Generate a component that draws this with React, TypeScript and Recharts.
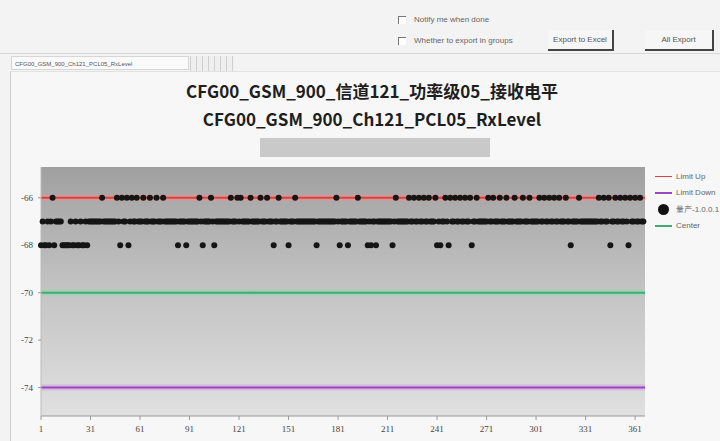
import {
  ComposedChart,
  Scatter,
  XAxis,
  YAxis,
  CartesianGrid,
  ReferenceLine,
} from "recharts";

// RxLevel per test index (1..366)
const rxLevel: number[] = [
  -68, -67, -68, -68, -67, -68, -67, -66, -68, -67, -67, -67, -67, -68, -68, -68, -68, -68, -67, -68, -68, -67, -68, -68, -67, -68, -68, -67, -68, -67,
  -67, -67, -67, -67, -67, -67, -67, -66, -67, -67, -67, -67, -67, -67, -67, -67, -66, -67, -68, -66, -67, -67, -66, -68, -67, -66, -67, -67, -66, -67,
  -67, -67, -66, -67, -67, -67, -66, -67, -67, -67, -66, -67, -67, -67, -66, -67, -67, -67, -67, -67, -67, -67, -67, -68, -67, -67, -67, -67, -68, -67,
  -67, -67, -67, -67, -67, -67, -66, -67, -68, -67, -67, -67, -67, -66, -67, -68, -67, -67, -67, -67, -67, -67, -67, -67, -67, -66, -67, -67, -67, -66,
  -67, -66, -67, -67, -67, -67, -67, -66, -67, -67, -67, -67, -67, -66, -67, -67, -67, -66, -67, -67, -67, -68, -67, -67, -66, -67, -67, -67, -67, -67,
  -68, -67, -67, -67, -66, -67, -67, -67, -67, -67, -67, -67, -67, -67, -67, -67, -67, -68, -67, -67, -67, -67, -67, -67, -67, -67, -67, -67, -67, -66,
  -67, -68, -67, -67, -67, -67, -68, -67, -67, -67, -67, -67, -66, -67, -67, -67, -67, -67, -68, -67, -68, -67, -67, -68, -67, -67, -67, -67, -67, -67,
  -67, -67, -67, -68, -67, -66, -67, -67, -67, -67, -67, -67, -67, -66, -67, -67, -66, -67, -67, -66, -67, -67, -66, -67, -67, -66, -67, -67, -67, -66,
  -68, -67, -68, -67, -67, -66, -67, -68, -66, -67, -67, -66, -67, -67, -66, -67, -67, -66, -67, -67, -66, -68, -67, -67, -66, -67, -67, -67, -67, -67,
  -67, -66, -67, -67, -66, -67, -67, -67, -66, -67, -67, -67, -66, -67, -67, -67, -67, -66, -67, -67, -67, -67, -66, -67, -67, -67, -66, -67, -67, -67,
  -67, -67, -66, -67, -67, -66, -67, -67, -66, -67, -67, -66, -67, -67, -66, -67, -67, -67, -66, -67, -67, -68, -67, -67, -67, -67, -66, -67, -67, -67,
  -67, -67, -67, -67, -67, -67, -67, -67, -66, -67, -67, -66, -67, -67, -66, -68, -67, -67, -66, -67, -67, -66, -67, -67, -66, -67, -68, -66, -67, -67,
  -66, -67, -67, -66, -67, -67,
];

const xTicks = [1, 31, 61, 91, 121, 151, 181, 211, 241, 271, 301, 331, 361];
const yTicks = [-74, -72, -70, -68, -66];

const limitUp = -66;
const limitDown = -74;
const center = -70;

const seriesName = "量产-1.0.0.1";
const titleCn = "CFG00_GSM_900_信道121_功率级05_接收电平";
const titleEn = "CFG00_GSM_900_Ch121_PCL05_RxLevel";

const points = rxLevel.map((v, i) => ({ idx: i + 1, rx: v }));

const uiFont = "'Liberation Sans', Arial, sans-serif";

const Dot = (props: any) => (
  <circle cx={props.cx} cy={props.cy} r={3} fill="#151515" />
);

const legendItems = [
  { label: "Limit Up", color: "#d94040", kind: "line" },
  { label: "Limit Down", color: "#9b45c2", kind: "line" },
  { label: seriesName, color: "#111", kind: "dot" },
  { label: "Center", color: "#3fae73", kind: "line" },
];

const CheckRow = ({ top, text }: { top: number; text: string }) => (
  <div style={{ position: "absolute", left: 398, top, display: "flex", alignItems: "center" }}>
    <div style={{ width: 7, height: 7, borderLeft: "1px solid #777", borderTop: "1px solid #777", background: "#fff" }} />
    <span style={{ marginLeft: 8, fontSize: 8, color: "#666" }}>{text}</span>
  </div>
);

const Btn = ({ left, width, text }: { left: number; width: number; text: string }) => (
  <div
    style={{
      position: "absolute",
      left,
      top: 30,
      width,
      height: 19,
      borderRight: "2px solid #444",
      borderBottom: "2px solid #444",
      background: "#f6f6f6",
      fontSize: 8,
      color: "#555",
      textAlign: "center",
      lineHeight: "19px",
    }}
  >
    {text}
  </div>
);

export default function App() {
  return (
    <div
      style={{
        position: "absolute",
        left: 0,
        top: 0,
        width: 720,
        height: 441,
        overflow: "hidden",
        background: "#f3f3f3",
        fontFamily: uiFont,
      }}
    >
      <CheckRow top={15} text="Notify me when done" />
      <CheckRow top={36} text="Whether to export in groups" />
      <Btn left={548} width={64} text="Export to Excel" />
      <Btn left={645} width={67} text="All Export" />
      <div style={{ position: "absolute", left: 0, top: 53, width: 720, height: 1, background: "#d8d8d8" }} />

      {/* tab strip */}
      <div
        style={{
          position: "absolute",
          left: 11,
          top: 56,
          width: 178,
          height: 14,
          border: "1px solid #d6d6d6",
          background: "#fafafa",
          fontSize: 6,
          color: "#555",
          lineHeight: "14px",
          paddingLeft: 3,
          boxSizing: "border-box",
        }}
      >
        {titleEn}
      </div>
      <div
        style={{
          position: "absolute",
          left: 190,
          top: 56,
          width: 44,
          height: 16,
          background:
            "repeating-linear-gradient(90deg, #cfcfcf 0px, #cfcfcf 1px, #efefef 1px, #efefef 6px)",
        }}
      />

      {/* chart panel */}
      <div
        style={{
          position: "absolute",
          left: 10,
          top: 71,
          width: 710,
          height: 370,
          background: "#f7f7f7",
          borderLeft: "1px solid #cdcdcd",
          borderTop: "1px solid #e2e2e2",
        }}
      />

      <div
        style={{
          position: "absolute",
          left: 122,
          top: 77,
          width: 500,
          textAlign: "center",
          fontFamily: "'Noto Sans CJK SC', 'Noto Sans', sans-serif",
          fontWeight: 700,
          fontSize: 17,
          color: "#1e1e1e",
          lineHeight: "28px",
        }}
      >
        <div>{titleCn}</div>
        <div>{titleEn}</div>
      </div>
      <div style={{ position: "absolute", left: 260, top: 138, width: 230, height: 19, background: "#c9c9c9" }} />

      <div style={{ position: "absolute", left: 0, top: 160 }}>
        <ComposedChart
          width={720}
          height={281}
          data={points}
          margin={{ top: 7, right: 75, bottom: 0, left: 9 }}
        >
          <defs>
            <linearGradient id="plotBg" x1="0" y1="0" x2="0" y2="1">
              <stop offset="0%" stopColor="#a0a0a0" />
              <stop offset="50%" stopColor="#c4c4c4" />
              <stop offset="100%" stopColor="#e0e0e0" />
            </linearGradient>
          </defs>
          <CartesianGrid fill="url(#plotBg)" stroke="none" />
          <XAxis
            type="number"
            dataKey="idx"
            domain={[1, 367]}
            ticks={xTicks}
            height={25}
            tick={{ fontSize: 9, fill: "#444", fontFamily: "'Liberation Serif', serif" }}
            tickSize={4}
            tickMargin={6}
            axisLine={{ stroke: "#999" }}
            tickLine={{ stroke: "#999" }}
          />
          <YAxis
            type="number"
            dataKey="rx"
            domain={[-75.2, -64.7]}
            ticks={yTicks}
            width={32}
            tick={{ fontSize: 9, fill: "#444", fontFamily: "'Liberation Serif', serif" }}
            tickSize={3}
            tickMargin={5}
            axisLine={{ stroke: "#bbb" }}
            tickLine={{ stroke: "#999" }}
          />
          <ReferenceLine y={limitUp} stroke="#f09090" strokeOpacity={0.6} strokeWidth={6} />
          <ReferenceLine y={limitUp} stroke="#d94040" strokeWidth={2} />
          <ReferenceLine y={center} stroke="#8fd3ad" strokeOpacity={0.6} strokeWidth={6} />
          <ReferenceLine y={center} stroke="#3fae73" strokeWidth={2} />
          <ReferenceLine y={limitDown} stroke="#d4a6e6" strokeOpacity={0.6} strokeWidth={6} />
          <ReferenceLine y={limitDown} stroke="#9b45c2" strokeWidth={2} />
          <Scatter
            name={seriesName}
            dataKey="rx"
            shape={Dot}
            isAnimationActive={false}
          />
        </ComposedChart>
      </div>

      {/* legend */}
      <div style={{ position: "absolute", left: 655, top: 168 }}>
        {legendItems.map((it) => (
          <div
            key={it.label}
            style={{ display: "flex", alignItems: "center", height: 16.5, whiteSpace: "nowrap" }}
          >
            {it.kind === "line" ? (
              <div style={{ width: 17, height: 1.5, background: it.color }} />
            ) : (
              <div style={{ width: 17, display: "flex", justifyContent: "center" }}>
                <div style={{ width: 11, height: 11, borderRadius: "50%", background: it.color }} />
              </div>
            )}
            <span style={{ marginLeft: 4, fontSize: 8, color: "#666" }}>{it.label}</span>
          </div>
        ))}
      </div>
    </div>
  );
}
